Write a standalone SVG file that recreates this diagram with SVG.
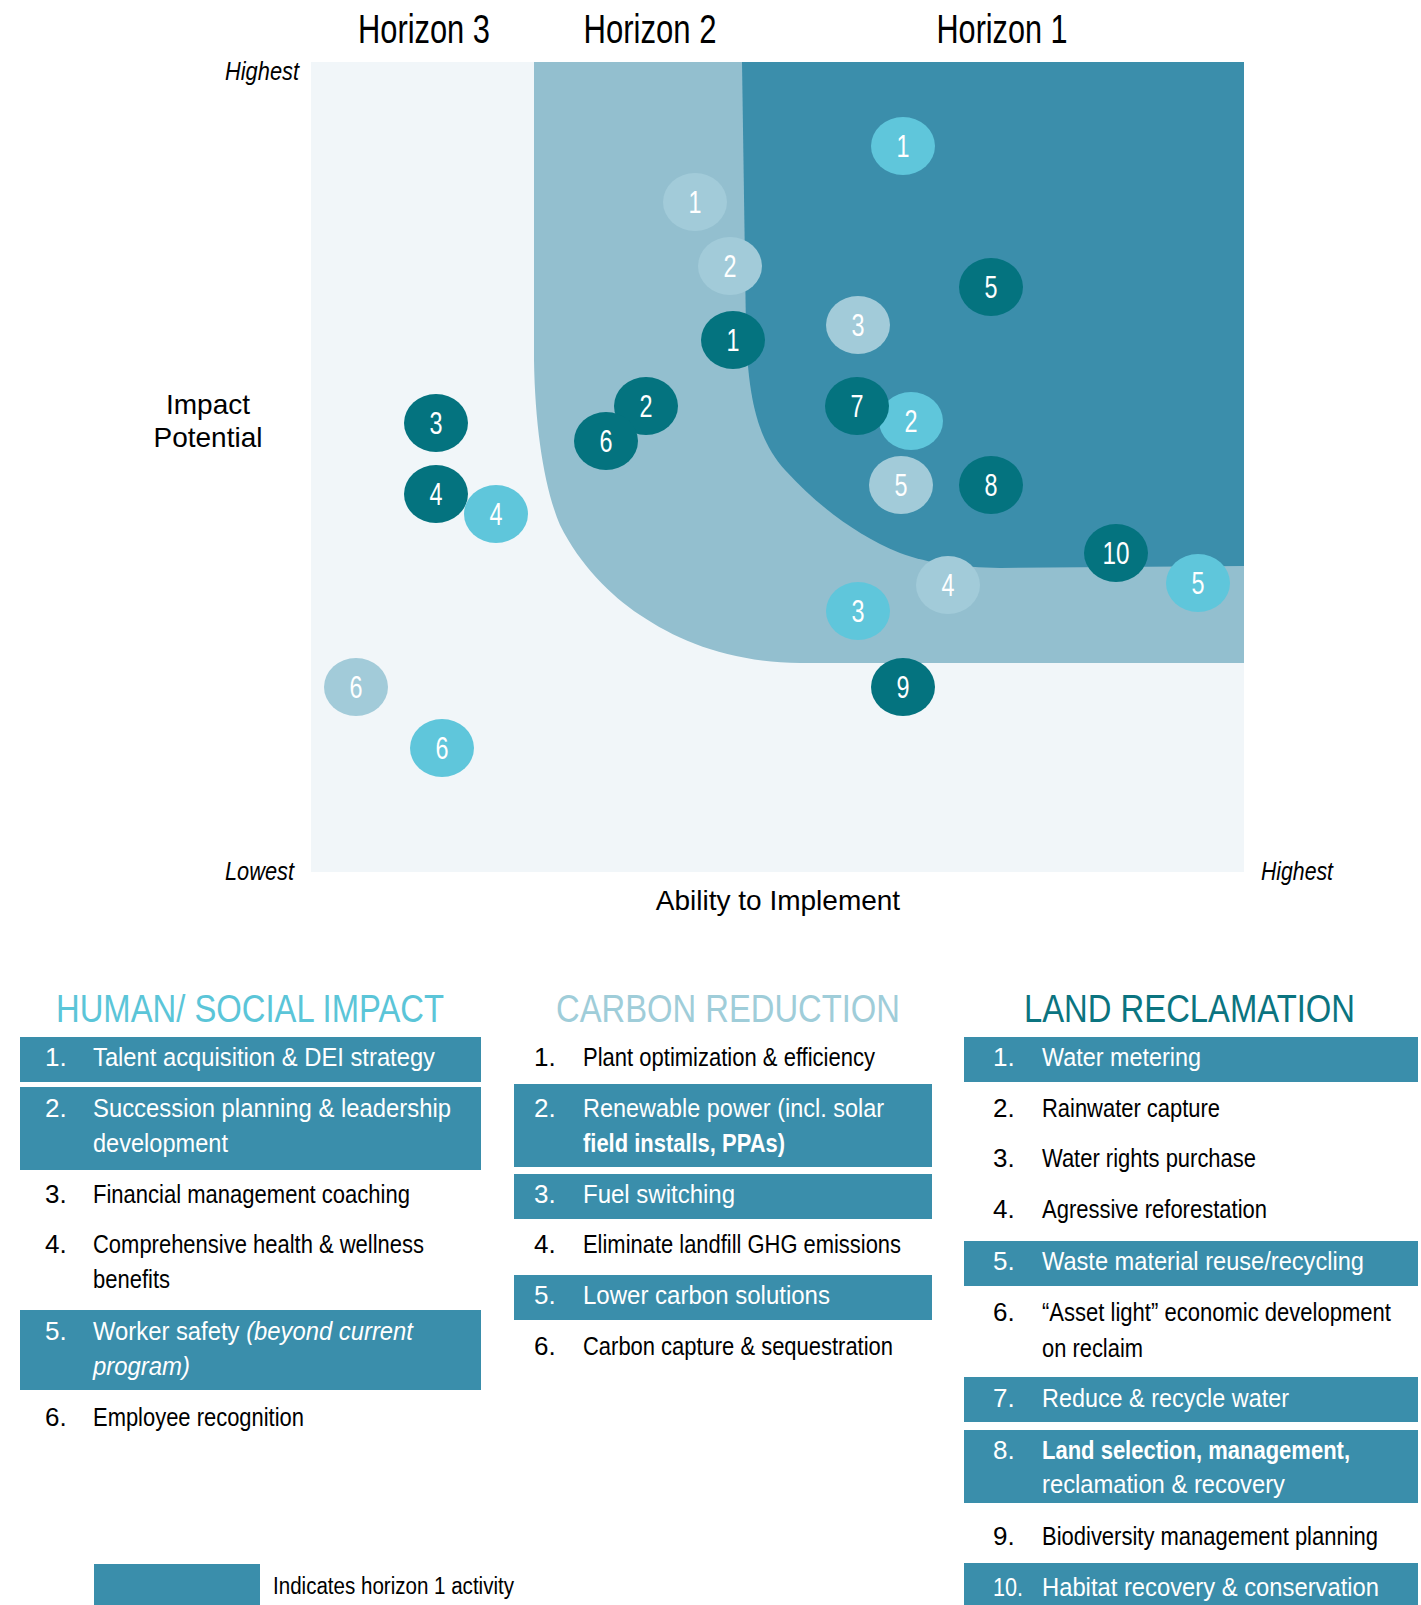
<svg xmlns="http://www.w3.org/2000/svg" width="1421" height="1605" viewBox="0 0 1421 1605">
<style>
text{font-family:"Liberation Sans",Arial,sans-serif;}
.hz{font-size:40px;fill:#000;text-anchor:middle;}
.ax{font-size:28px;fill:#000;}
.lim{font-size:25px;font-style:italic;fill:#000;}
.cd{fill:#04737f;}
.cc{fill:#5fc6db;}
.cp{fill:#a2cbd9;}
.num{font-size:31px;fill:#fff;text-anchor:middle;}
.hd{font-size:39px;}
.li{font-size:26px;fill:#000;}
.lw{font-size:26px;fill:#fff;}
.bx{fill:#3a8eab;}
</style>
<rect width="1421" height="1605" fill="#ffffff"/>
<g id="titles">
<text class="hz" x="424" y="43" textLength="132" lengthAdjust="spacingAndGlyphs">Horizon 3</text>
<text class="hz" x="650" y="43" textLength="133" lengthAdjust="spacingAndGlyphs">Horizon 2</text>
<text class="hz" x="1002" y="43" textLength="131" lengthAdjust="spacingAndGlyphs">Horizon 1</text>
</g>
<g id="plot">
<rect x="311" y="62" width="933" height="810" fill="#f1f6f9"/>
<path d="M534,62 L534,360 C535,430 545,490 560,525 C580,565 610,595 640,615 C680,642 730,662 800,663 L1244,663 L1244,62 Z" fill="#93bfcf"/>
<path d="M742,62 L746,330 C748,400 758,440 785,470 C815,503 855,535 900,553 C930,564 960,567 1000,568 L1244,566 L1244,62 Z" fill="#3b8eab"/>
</g>
<g id="axes">
<text class="lim" x="299" y="80" text-anchor="end" textLength="74" lengthAdjust="spacingAndGlyphs">Highest</text>
<text class="lim" x="294" y="880" text-anchor="end" textLength="69" lengthAdjust="spacingAndGlyphs">Lowest</text>
<text class="lim" x="1261" y="880" textLength="72" lengthAdjust="spacingAndGlyphs">Highest</text>
<text class="ax" x="208" y="414" text-anchor="middle">Impact</text>
<text class="ax" x="208" y="447" text-anchor="middle">Potential</text>
<text class="ax" x="778" y="910" text-anchor="middle">Ability to Implement</text>
</g>
<g id="nodes">
<g id="p1"><ellipse class="cp" cx="695" cy="202" rx="32" ry="29"/><text class="num" x="695" y="213" textLength="13" lengthAdjust="spacingAndGlyphs">1</text></g>
<g id="p2"><ellipse class="cp" cx="730" cy="266" rx="32" ry="29"/><text class="num" x="730" y="277" textLength="13" lengthAdjust="spacingAndGlyphs">2</text></g>
<g id="p3"><ellipse class="cp" cx="858" cy="325" rx="32" ry="29"/><text class="num" x="858" y="336" textLength="13" lengthAdjust="spacingAndGlyphs">3</text></g>
<g id="p4"><ellipse class="cp" cx="948" cy="585" rx="32" ry="29"/><text class="num" x="948" y="596" textLength="13" lengthAdjust="spacingAndGlyphs">4</text></g>
<g id="p5"><ellipse class="cp" cx="901" cy="485" rx="32" ry="29"/><text class="num" x="901" y="496" textLength="13" lengthAdjust="spacingAndGlyphs">5</text></g>
<g id="p6"><ellipse class="cp" cx="356" cy="687" rx="32" ry="29"/><text class="num" x="356" y="698" textLength="13" lengthAdjust="spacingAndGlyphs">6</text></g>
<g id="d1"><ellipse class="cd" cx="733" cy="340" rx="32" ry="29"/><text class="num" x="733" y="351" textLength="13" lengthAdjust="spacingAndGlyphs">1</text></g>
<g id="d2"><ellipse class="cd" cx="646" cy="406" rx="32" ry="29"/><text class="num" x="646" y="417" textLength="13" lengthAdjust="spacingAndGlyphs">2</text></g>
<g id="d6"><ellipse class="cd" cx="606" cy="441" rx="32" ry="29"/><text class="num" x="606" y="452" textLength="13" lengthAdjust="spacingAndGlyphs">6</text></g>
<g id="d3"><ellipse class="cd" cx="436" cy="423" rx="32" ry="29"/><text class="num" x="436" y="434" textLength="13" lengthAdjust="spacingAndGlyphs">3</text></g>
<g id="d4"><ellipse class="cd" cx="436" cy="494" rx="32" ry="29"/><text class="num" x="436" y="505" textLength="13" lengthAdjust="spacingAndGlyphs">4</text></g>
<g id="d5"><ellipse class="cd" cx="991" cy="287" rx="32" ry="29"/><text class="num" x="991" y="298" textLength="13" lengthAdjust="spacingAndGlyphs">5</text></g>
<g id="d8"><ellipse class="cd" cx="991" cy="485" rx="32" ry="29"/><text class="num" x="991" y="496" textLength="13" lengthAdjust="spacingAndGlyphs">8</text></g>
<g id="d9"><ellipse class="cd" cx="903" cy="687" rx="32" ry="29"/><text class="num" x="903" y="698" textLength="13" lengthAdjust="spacingAndGlyphs">9</text></g>
<g id="d10"><ellipse class="cd" cx="1116" cy="553" rx="32" ry="29"/><text class="num" x="1116" y="564" textLength="27" lengthAdjust="spacingAndGlyphs">10</text></g>
<g id="h1"><ellipse class="cc" cx="903" cy="146" rx="32" ry="29"/><text class="num" x="903" y="157" textLength="13" lengthAdjust="spacingAndGlyphs">1</text></g>
<g id="h2"><ellipse class="cc" cx="911" cy="421" rx="32" ry="29"/><text class="num" x="911" y="432" textLength="13" lengthAdjust="spacingAndGlyphs">2</text></g>
<g id="d7"><ellipse class="cd" cx="857" cy="406" rx="32" ry="29"/><text class="num" x="857" y="417" textLength="13" lengthAdjust="spacingAndGlyphs">7</text></g>
<g id="h3"><ellipse class="cc" cx="858" cy="611" rx="32" ry="29"/><text class="num" x="858" y="622" textLength="13" lengthAdjust="spacingAndGlyphs">3</text></g>
<g id="h4"><ellipse class="cc" cx="496" cy="514" rx="32" ry="29"/><text class="num" x="496" y="525" textLength="13" lengthAdjust="spacingAndGlyphs">4</text></g>
<g id="h5"><ellipse class="cc" cx="1198" cy="583" rx="32" ry="29"/><text class="num" x="1198" y="594" textLength="13" lengthAdjust="spacingAndGlyphs">5</text></g>
<g id="h6"><ellipse class="cc" cx="442" cy="748" rx="32" ry="29"/><text class="num" x="442" y="759" textLength="13" lengthAdjust="spacingAndGlyphs">6</text></g>
</g>
<g id="connectors"></g>
<g id="human">
<text class="hd" x="56" y="1022" fill="#5bc5d8" textLength="388" lengthAdjust="spacingAndGlyphs">HUMAN/ SOCIAL IMPACT</text>
<rect class="bx" x="20" y="1037" width="461" height="45"/>
<rect class="bx" x="20" y="1087" width="461" height="83"/>
<rect class="bx" x="20" y="1310" width="461" height="80"/>
<text class="lw" x="45" y="1066">1.</text><text class="lw" x="93" y="1066" textLength="342" lengthAdjust="spacingAndGlyphs">Talent acquisition &amp; DEI strategy</text>
<text class="lw" x="45" y="1117">2.</text><text class="lw" x="93" y="1117" textLength="358" lengthAdjust="spacingAndGlyphs">Succession planning &amp; leadership</text>
<text class="lw" x="93" y="1152" textLength="135" lengthAdjust="spacingAndGlyphs">development</text>
<text class="li" x="45" y="1203">3.</text><text class="li" x="93" y="1203" textLength="317" lengthAdjust="spacingAndGlyphs">Financial management coaching</text>
<text class="li" x="45" y="1253">4.</text><text class="li" x="93" y="1253" textLength="331" lengthAdjust="spacingAndGlyphs">Comprehensive health &amp; wellness</text>
<text class="li" x="93" y="1288" textLength="77" lengthAdjust="spacingAndGlyphs">benefits</text>
<text class="lw" x="45" y="1340">5.</text><text class="lw" x="93" y="1340" textLength="320" lengthAdjust="spacingAndGlyphs">Worker safety <tspan font-style="italic">(beyond current</tspan></text>
<text class="lw" x="93" y="1375" font-style="italic" textLength="97" lengthAdjust="spacingAndGlyphs">program)</text>
<text class="li" x="45" y="1426">6.</text><text class="li" x="93" y="1426" textLength="211" lengthAdjust="spacingAndGlyphs">Employee recognition</text>
</g>
<g id="carbon">
<text class="hd" x="556" y="1022" fill="#9fcdd9" textLength="344" lengthAdjust="spacingAndGlyphs">CARBON REDUCTION</text>
<rect class="bx" x="514" y="1084" width="418" height="83"/>
<rect class="bx" x="514" y="1174" width="418" height="45"/>
<rect class="bx" x="514" y="1275" width="418" height="45"/>
<text class="li" x="534" y="1066">1.</text><text class="li" x="583" y="1066" textLength="292" lengthAdjust="spacingAndGlyphs">Plant optimization &amp; efficiency</text>
<text class="lw" x="534" y="1117">2.</text><text class="lw" x="583" y="1117" textLength="301" lengthAdjust="spacingAndGlyphs">Renewable power (incl. solar</text>
<text class="lw" x="583" y="1152" font-weight="bold" textLength="202" lengthAdjust="spacingAndGlyphs">field installs, PPAs)</text>
<text class="lw" x="534" y="1203">3.</text><text class="lw" x="583" y="1203" textLength="152" lengthAdjust="spacingAndGlyphs">Fuel switching</text>
<text class="li" x="534" y="1253">4.</text><text class="li" x="583" y="1253" textLength="318" lengthAdjust="spacingAndGlyphs">Eliminate landfill GHG emissions</text>
<text class="lw" x="534" y="1304">5.</text><text class="lw" x="583" y="1304" textLength="247" lengthAdjust="spacingAndGlyphs">Lower carbon solutions</text>
<text class="li" x="534" y="1355">6.</text><text class="li" x="583" y="1355" textLength="310" lengthAdjust="spacingAndGlyphs">Carbon capture &amp; sequestration</text>
</g>
<g id="land">
<text class="hd" x="1024" y="1022" fill="#0b7480" textLength="331" lengthAdjust="spacingAndGlyphs">LAND RECLAMATION</text>
<rect class="bx" x="964" y="1037" width="454" height="45"/>
<rect class="bx" x="964" y="1241" width="454" height="45"/>
<rect class="bx" x="964" y="1377" width="454" height="45"/>
<rect class="bx" x="964" y="1430" width="454" height="73"/>
<rect class="bx" x="964" y="1563" width="454" height="42"/>
<text class="lw" x="993" y="1066">1.</text><text class="lw" x="1042" y="1066" textLength="159" lengthAdjust="spacingAndGlyphs">Water metering</text>
<text class="li" x="993" y="1117">2.</text><text class="li" x="1042" y="1117" textLength="178" lengthAdjust="spacingAndGlyphs">Rainwater capture</text>
<text class="li" x="993" y="1167">3.</text><text class="li" x="1042" y="1167" textLength="214" lengthAdjust="spacingAndGlyphs">Water rights purchase</text>
<text class="li" x="993" y="1218">4.</text><text class="li" x="1042" y="1218" textLength="225" lengthAdjust="spacingAndGlyphs">Agressive reforestation</text>
<text class="lw" x="993" y="1270">5.</text><text class="lw" x="1042" y="1270" textLength="322" lengthAdjust="spacingAndGlyphs">Waste material reuse/recycling</text>
<text class="li" x="993" y="1321">6.</text><text class="li" x="1042" y="1321" textLength="349" lengthAdjust="spacingAndGlyphs">“Asset light” economic development</text>
<text class="li" x="1042" y="1357" textLength="101" lengthAdjust="spacingAndGlyphs">on reclaim</text>
<text class="lw" x="993" y="1407">7.</text><text class="lw" x="1042" y="1407" textLength="247" lengthAdjust="spacingAndGlyphs">Reduce &amp; recycle water</text>
<text class="lw" x="993" y="1459">8.</text><text class="lw" x="1042" y="1459" font-weight="bold" textLength="308" lengthAdjust="spacingAndGlyphs">Land selection, management,</text>
<text class="lw" x="1042" y="1493" textLength="243" lengthAdjust="spacingAndGlyphs">reclamation &amp; recovery</text>
<text class="li" x="993" y="1545">9.</text><text class="li" x="1042" y="1545" textLength="336" lengthAdjust="spacingAndGlyphs">Biodiversity management planning</text>
<text class="lw" x="993" y="1596" textLength="30" lengthAdjust="spacingAndGlyphs">10.</text><text class="lw" x="1042" y="1596" textLength="337" lengthAdjust="spacingAndGlyphs">Habitat recovery &amp; conservation</text>
</g>
<g id="legend">
<rect class="bx" x="94" y="1564" width="166" height="41"/>
<text x="273" y="1594" font-size="23" fill="#000" textLength="241" lengthAdjust="spacingAndGlyphs">Indicates horizon 1 activity</text>
</g>
</svg>
